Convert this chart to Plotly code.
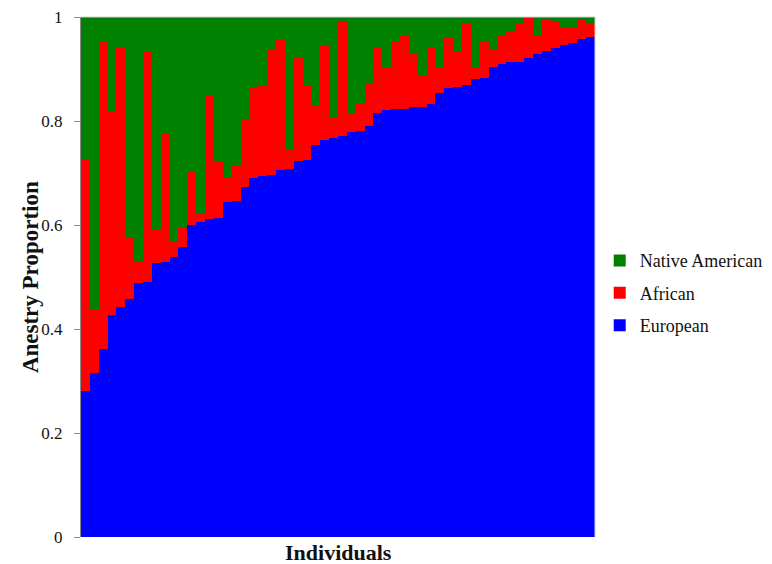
import plotly.graph_objects as go

individuals = list(range(1, 59))

european = [0.281, 0.316, 0.361, 0.427, 0.442, 0.458, 0.489, 0.491, 0.526, 0.529,
            0.538, 0.557, 0.600, 0.605, 0.612, 0.613, 0.644, 0.646, 0.673, 0.690,
            0.694, 0.696, 0.706, 0.708, 0.724, 0.725, 0.753, 0.764, 0.768, 0.772,
            0.778, 0.781, 0.791, 0.815, 0.821, 0.824, 0.824, 0.826, 0.827, 0.833,
            0.854, 0.863, 0.865, 0.870, 0.881, 0.882, 0.903, 0.909, 0.913, 0.913,
            0.921, 0.929, 0.935, 0.940, 0.947, 0.950, 0.958, 0.962]

african = [0.444, 0.122, 0.590, 0.392, 0.500, 0.118, 0.042, 0.441, 0.064, 0.247,
           0.032, 0.037, 0.104, 0.019, 0.238, 0.111, 0.048, 0.069, 0.128, 0.175,
           0.173, 0.242, 0.249, 0.039, 0.200, 0.142, 0.078, 0.180, 0.040, 0.219,
           0.035, 0.054, 0.082, 0.128, 0.082, 0.127, 0.141, 0.104, 0.060, 0.109,
           0.047, 0.096, 0.068, 0.118, 0.021, 0.071, 0.034, 0.056, 0.059, 0.073,
           0.079, 0.034, 0.061, 0.050, 0.031, 0.028, 0.039, 0.027]

native_american = [0.275, 0.562, 0.049, 0.181, 0.058, 0.424, 0.469, 0.068, 0.410, 0.224,
                   0.430, 0.406, 0.296, 0.376, 0.150, 0.276, 0.308, 0.285, 0.199, 0.135,
                   0.133, 0.062, 0.045, 0.253, 0.076, 0.133, 0.169, 0.056, 0.192, 0.009,
                   0.187, 0.165, 0.127, 0.057, 0.097, 0.049, 0.035, 0.070, 0.113, 0.058,
                   0.099, 0.041, 0.067, 0.012, 0.098, 0.047, 0.063, 0.035, 0.028, 0.014,
                   0.000, 0.037, 0.004, 0.010, 0.022, 0.022, 0.003, 0.011]

y_tick_vals = [0, 0.2, 0.4, 0.6, 0.8, 1.0]
y_tick_text = ["0", "0.2", "0.4", "0.6", "0.8", "1"]

FONT = "Liberation Serif"

fig = go.Figure()
fig.add_trace(go.Bar(x=individuals, y=european, name="European", legendrank=3,
                     marker=dict(color="#0000FF", line=dict(width=0)), legendgroup="a"))
fig.add_trace(go.Bar(x=individuals, y=african, name="African", legendrank=2,
                     marker=dict(color="#FF0000", line=dict(width=0)), legendgroup="b"))
fig.add_trace(go.Bar(x=individuals, y=native_american, name="Native American", legendrank=1,
                     marker=dict(color="#008000", line=dict(width=0)), legendgroup="c"))

fig.update_layout(
    width=764, height=556,
    barmode="stack", bargap=0,
    plot_bgcolor="white", paper_bgcolor="white",
    margin=dict(l=73, r=177, t=9, b=27, autoexpand=False),
    font=dict(family=FONT, size=16, color="#111111"),
    showlegend=True,
    legend=dict(xref="container", yref="container", x=0.7745, xanchor="left",
                y=0.487, yanchor="middle",
                traceorder="grouped", tracegroupgap=6,
                font=dict(family=FONT, size=18, color="#111111"),
                bgcolor="rgba(0,0,0,0)"),
    xaxis=dict(range=[0.5, 58.5], showticklabels=False, ticks="", automargin=False,
               showgrid=False, zeroline=False, showline=False),
    yaxis=dict(range=[0, 1], tickvals=y_tick_vals, ticktext=y_tick_text,
               ticks="outside", ticklen=6, tickcolor="#8c8c8c", automargin=False,
               ticklabelstandoff=8, ticklabeloverflow="allow",
               showgrid=False, zeroline=False, showline=True,
               linecolor="#8c8c8c", linewidth=1,
               tickfont=dict(family=FONT, size=17, color="#111111")),
    shapes=[
        dict(type="line", xref="paper", yref="paper", x0=0, x1=1, y0=1, y1=1,
             line=dict(color="#d0d0d0", width=1)),
        dict(type="line", xref="paper", yref="paper", x0=1, x1=1, y0=0, y1=1,
             line=dict(color="#d0d0d0", width=1)),
    ],
    annotations=[
        dict(text="<b>Individuals</b>", xref="paper", yref="paper", x=0.5, y=0,
             xanchor="center", yanchor="top", yshift=-1, showarrow=False,
             font=dict(family=FONT, size=22, color="#111111")),
        dict(text="<b>Anestry Proportion</b>", xref="paper", yref="paper",
             x=-0.099, y=0.5, xanchor="center", yanchor="middle", textangle=-90,
             showarrow=False, font=dict(family=FONT, size=23, color="#111111")),
    ],
)

fig.write_html("out.html")
